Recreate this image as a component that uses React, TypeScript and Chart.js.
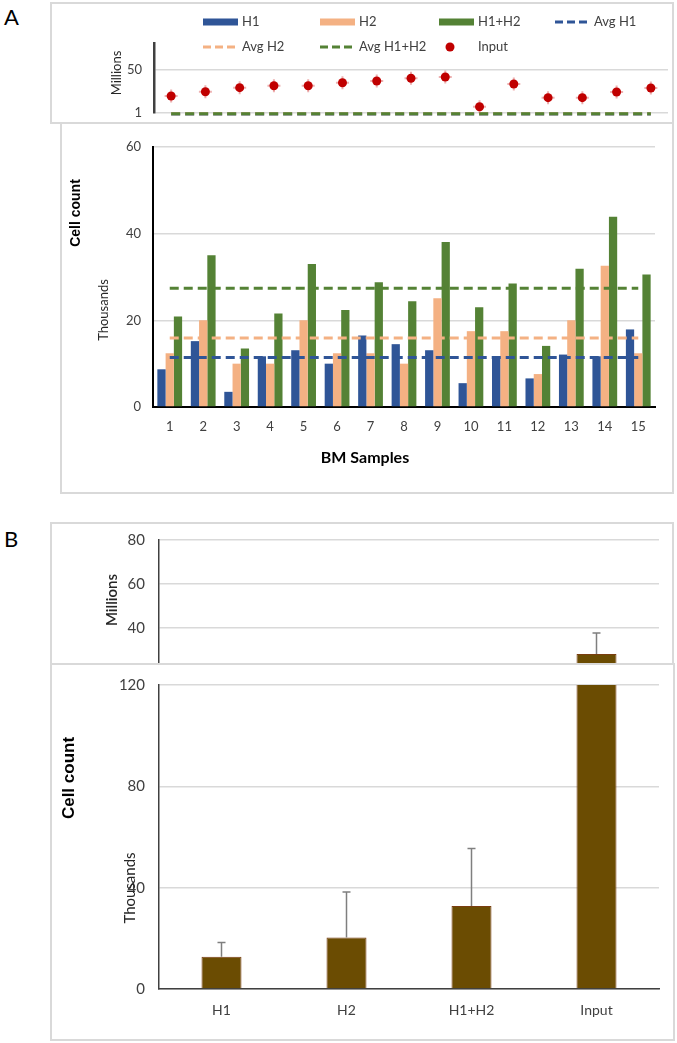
import React, { useEffect, useRef } from 'react';
import { Chart, registerables } from 'chart.js';

Chart.register(...registerables);
Chart.defaults.font.family = 'Lato, "Open Sans", sans-serif';

// ---------- Panel A data (thousands of cells) ----------
const samples = ['1', '2', '3', '4', '5', '6', '7', '8', '9', '10', '11', '12', '13', '14', '15'];
const h1Values = [8.7, 15.2, 3.5, 11.7, 13.1, 10.0, 16.5, 14.5, 13.1, 5.5, 11.7, 6.6, 12.1, 11.7, 17.9];
const h2Values = [12.4, 20.0, 10.0, 10.0, 20.0, 12.4, 12.4, 10.0, 25.1, 17.5, 17.5, 7.6, 20.0, 32.6, 12.4];
const h1h2Values = [20.9, 35.0, 13.5, 21.6, 33.0, 22.4, 28.8, 24.4, 38.1, 23.0, 28.5, 14.1, 31.9, 43.9, 30.6];
const avgH1 = 11.4;
const avgH2 = 15.9;
const avgH1H2 = 27.4;
// Input (millions of cells)
const inputMillions = [20.2, 25.0, 29.6, 31.8, 31.8, 35.2, 37.1, 40.2, 41.6, 8.1, 33.7, 18.3, 18.3, 24.7, 29.2];
const topATicks = [1, 50];
const lowerATicks = [0, 20, 40, 60];

// ---------- Panel B data (thousands of cells) ----------
const groupsB = ['H1', 'H2', 'H1+H2', 'Input'];
const meanB = [12.7, 20.3, 32.8, 28200];
const errB = [5.7, 18.0, 22.7, 9500];
const topBTicks = [0, 20, 40, 60, 80];
const lowerBTicks = [0, 40, 80, 120];

// ---------- colours ----------
const C_H1 = '#2f5597';
const C_H2 = '#f4b183';
const C_H12 = '#548235';
const C_INPUT = '#c00000';
const C_BROWN = '#6b4c02';
const C_GRID = '#d9d9d9';
const C_TICK = '#404040';

const legendItems = [
  { label: 'H1', color: C_H1, kind: 'rect' },
  { label: 'H2', color: C_H2, kind: 'rect' },
  { label: 'H1+H2', color: C_H12, kind: 'rect' },
  { label: 'Avg H1', color: C_H1, kind: 'dash' },
  { label: 'Avg H2', color: C_H2, kind: 'dash' },
  { label: 'Avg H1+H2', color: C_H12, kind: 'dash' },
  { label: 'Input', color: C_INPUT, kind: 'dot' },
];

// ---------- plugins ----------
const textPlugin = {
  id: 'extraText',
  afterDraw(chart: any, _a: any, opts: any) {
    const ctx = chart.ctx;
    (opts.items || []).forEach((it: any) => {
      ctx.save();
      ctx.translate(it.x, it.y);
      if (it.rotate) ctx.rotate(it.rotate);
      ctx.font = it.font;
      ctx.fillStyle = it.color || '#000';
      ctx.textAlign = 'center';
      ctx.textBaseline = 'middle';
      ctx.fillText(it.text, 0, 0);
      ctx.restore();
    });
  },
};

const gridLegendPlugin = {
  id: 'gridLegend',
  afterDraw(chart: any, _a: any, opts: any) {
    if (!opts.items) return;
    const ctx = chart.ctx;
    const sw = opts.swatchW;
    opts.items.forEach((it: any, i: number) => {
      const row = i < opts.perRow ? 0 : 1;
      const col = row === 0 ? i : i - opts.perRow;
      const x = opts.colX[col];
      const y = opts.rowY[row];
      ctx.save();
      if (it.kind === 'rect') {
        ctx.fillStyle = it.color;
        ctx.fillRect(x, y - 3.5, sw, 7);
      } else if (it.kind === 'dash') {
        ctx.strokeStyle = it.color;
        ctx.lineWidth = 3;
        ctx.setLineDash([8, 4]);
        ctx.beginPath();
        ctx.moveTo(x, y);
        ctx.lineTo(x + sw, y);
        ctx.stroke();
      } else {
        ctx.fillStyle = it.color;
        ctx.beginPath();
        ctx.arc(x + 11, y, 4.5, 0, Math.PI * 2);
        ctx.fill();
      }
      ctx.font = opts.font;
      ctx.fillStyle = C_TICK;
      ctx.textAlign = 'left';
      ctx.textBaseline = 'middle';
      ctx.fillText(it.label, x + sw + 4, y);
      ctx.restore();
    });
  },
};

const errorBarPlugin = {
  id: 'errorBars',
  afterDatasetsDraw(chart: any, _a: any, opts: any) {
    if (!opts.means) return;
    const { ctx, chartArea } = chart;
    const meta = chart.getDatasetMeta(0);
    const ys = chart.scales.y;
    ctx.save();
    ctx.beginPath();
    ctx.rect(chartArea.left, chartArea.top - 3, chartArea.right - chartArea.left, chartArea.bottom - chartArea.top + 3);
    ctx.clip();
    ctx.strokeStyle = opts.color;
    ctx.lineWidth = opts.width;
    meta.data.forEach((bar: any, i: number) => {
      const v = opts.means[i] * opts.scale;
      const e = opts.errors[i] * opts.scale;
      const y0 = ys.getPixelForValue(v);
      const y1 = ys.getPixelForValue(v + e);
      ctx.beginPath();
      ctx.moveTo(bar.x, y0);
      ctx.lineTo(bar.x, y1);
      ctx.moveTo(bar.x - opts.cap / 2, y1);
      ctx.lineTo(bar.x + opts.cap / 2, y1);
      ctx.stroke();
    });
    ctx.restore();
  },
};

const fixedTicks = (vals: number[]) => (s: any) => {
  s.ticks = vals.map((v) => ({ value: v }));
};

// fixed y-axis width and no extra label padding, so layout.padding sets the plot area exactly
const fixYWidth = (w: number) => (s: any) => {
  s.width = w;
  s.paddingTop = 0;
  s.paddingBottom = 0;
};

// ---------- chart configs ----------
function topAConfig(): any {
  const avgLine = (v: number, color: string, order: number) => ({
    type: 'line',
    data: [{ x: samples[0], y: v / 1000 }, { x: samples[samples.length - 1], y: v / 1000 }],
    borderColor: color,
    borderWidth: 3,
    borderDash: [9, 5],
    pointRadius: 0,
    pointHoverRadius: 0,
    clip: 6,
    order,
  });
  return {
    type: 'line',
    data: {
      labels: samples,
      datasets: [
        { data: inputMillions, showLine: false, pointStyle: 'circle', pointRadius: 4.5, pointHoverRadius: 0, pointBackgroundColor: C_INPUT, pointBorderColor: C_INPUT, pointBorderWidth: 0, order: 0 },
        { data: inputMillions, showLine: false, pointStyle: 'cross', pointRadius: 6.5, pointHoverRadius: 0, pointBorderColor: 'rgba(214,80,80,0.45)', pointBorderWidth: 2, order: 1 },
        avgLine(avgH1H2, C_H12, 2),
        avgLine(avgH2, C_H2, 3),
        avgLine(avgH1, C_H1, 4),
      ],
    },
    options: {
      responsive: false,
      animation: false,
      devicePixelRatio: 1,
      layout: { autoPadding: false, padding: { top: 41, right: 6, left: 0, bottom: 10 } },
      plugins: {
        legend: { display: false },
        tooltip: { enabled: false },
        gridLegend: {
          items: legendItems,
          perRow: 4,
          colX: [153, 270, 389, 505],
          rowY: [20, 45],
          swatchW: 35,
          font: '13px Lato',
        },
        extraText: {
          items: [{ text: 'Millions', x: 67, y: 71, rotate: -Math.PI / 2, font: '13px Lato', color: '#262626' }],
        },
      },
      scales: {
        x: {
          type: 'category',
          display: false,
          offset: true,
        },
        y: {
          min: 1,
          max: 80,
          afterBuildTicks: fixedTicks(topATicks),
          grid: { color: C_GRID, lineWidth: 1.5, drawTicks: false },
          border: { color: '#404040', width: 2.5 },
          ticks: { color: C_TICK, font: { size: 13 }, padding: 12 },
          afterFit: fixYWidth(104),
        },
      },
    },
    plugins: [gridLegendPlugin, textPlugin],
  };
}

function lowerAConfig(): any {
  const avgLine = (label: string, v: number, color: string, order: number) => ({
    type: 'line',
    label,
    data: [{ x: samples[0], y: v }, { x: samples[samples.length - 1], y: v }],
    borderColor: color,
    borderWidth: 3,
    borderDash: [9, 5],
    pointRadius: 0,
    pointHoverRadius: 0,
    order,
  });
  return {
    type: 'bar',
    data: {
      labels: samples,
      datasets: [
        { type: 'bar', label: 'H1', data: h1Values, backgroundColor: C_H1, order: 10 },
        { type: 'bar', label: 'H2', data: h2Values, backgroundColor: C_H2, order: 10 },
        { type: 'bar', label: 'H1+H2', data: h1h2Values, backgroundColor: C_H12, order: 10 },
        avgLine('Avg H1', avgH1, C_H1, 3),
        avgLine('Avg H2', avgH2, C_H2, 2),
        avgLine('Avg H1+H2', avgH1H2, C_H12, 1),
      ],
    },
    options: {
      responsive: false,
      animation: false,
      devicePixelRatio: 1,
      layout: { autoPadding: false, padding: { top: 24, right: 19, left: 0, bottom: 0 } },
      datasets: { bar: { barPercentage: 1, categoryPercentage: 0.74 } },
      plugins: {
        legend: { display: false },
        tooltip: { enabled: false },
        extraText: {
          items: [
            { text: 'Cell count', x: 16, y: 90, rotate: -Math.PI / 2, font: 'bold 14px "Liberation Sans", Arial, sans-serif', color: '#000' },
            { text: 'Thousands', x: 44, y: 187, rotate: -Math.PI / 2, font: '13px Lato', color: '#262626' },
            { text: 'BM Samples', x: 305, y: 335, font: 'bold 16px Lato', color: '#000' },
          ],
        },
      },
      scales: {
        x: {
          offset: true,
          grid: { display: false },
          border: { color: '#000', width: 2 },
          ticks: { color: C_TICK, font: { size: 13 }, padding: 4 },
          afterFit: (s: any) => { s.height = 86; },
        },
        y: {
          min: 0,
          max: 60,
          afterBuildTicks: fixedTicks(lowerATicks),
          grid: { color: C_GRID, lineWidth: 1.5, drawTicks: false },
          border: { color: '#000', width: 2 },
          ticks: { color: C_TICK, font: { size: 13 }, padding: 12 },
          afterFit: fixYWidth(93),
        },
      },
    },
    plugins: [textPlugin],
  };
}

function topBConfig(): any {
  return {
    type: 'bar',
    data: {
      labels: groupsB,
      datasets: [
        { data: meanB.map((v) => v / 1000), backgroundColor: C_BROWN, borderColor: '#7a3d10', borderWidth: 1, barPercentage: 1, categoryPercentage: 0.32 },
      ],
    },
    options: {
      responsive: false,
      animation: false,
      devicePixelRatio: 1,
      layout: { autoPadding: false, padding: { top: 17, right: 15, left: 0, bottom: 17 } },
      plugins: {
        legend: { display: false },
        tooltip: { enabled: false },
        errorBars: { means: meanB, errors: errB, scale: 1 / 1000, color: '#7f7f7f', width: 1.5, cap: 8 },
        extraText: {
          items: [{ text: 'Millions', x: 62, y: 77, rotate: -Math.PI / 2, font: '600 15px Lato', color: '#262626' }],
        },
      },
      scales: {
        x: {
          display: false,
          offset: true,
        },
        y: {
          min: 0,
          max: 80,
          afterBuildTicks: fixedTicks(topBTicks),
          grid: { color: C_GRID, lineWidth: 1.5, drawTicks: false },
          border: { color: '#404040', width: 1.5 },
          ticks: { color: C_TICK, font: { size: 15 }, padding: 14 },
          afterFit: fixYWidth(109),
        },
      },
    },
    plugins: [errorBarPlugin, textPlugin],
  };
}

function lowerBConfig(): any {
  return {
    type: 'bar',
    data: {
      labels: groupsB,
      datasets: [
        { data: meanB, backgroundColor: C_BROWN, borderColor: '#7a3d10', borderWidth: 1, barPercentage: 1, categoryPercentage: 0.32, clip: 0 },
      ],
    },
    options: {
      responsive: false,
      animation: false,
      devicePixelRatio: 1,
      layout: { autoPadding: false, padding: { top: 21, right: 16, left: 0, bottom: 0 } },
      plugins: {
        legend: { display: false },
        tooltip: { enabled: false },
        errorBars: { means: meanB, errors: errB, scale: 1, color: '#7f7f7f', width: 1.5, cap: 8 },
        extraText: {
          items: [
            { text: 'Cell count', x: 19, y: 114, rotate: -Math.PI / 2, font: 'bold 17px "Liberation Sans", Arial, sans-serif', color: '#000' },
            { text: 'Thousands', x: 80, y: 224, rotate: -Math.PI / 2, font: '15px Lato', color: '#262626' },
          ],
        },
      },
      scales: {
        x: {
          offset: true,
          grid: { display: false },
          border: { color: '#404040', width: 1.5 },
          ticks: { color: C_TICK, font: { size: 14 }, padding: 5 },
          afterFit: (s: any) => { s.height = 51; },
        },
        y: {
          min: 0,
          max: 120,
          afterBuildTicks: fixedTicks(lowerBTicks),
          grid: { color: C_GRID, lineWidth: 1.5, drawTicks: false },
          border: { color: '#404040', width: 1.5 },
          ticks: { color: C_TICK, font: { size: 15 }, padding: 14 },
          afterFit: fixYWidth(109),
        },
      },
    },
    plugins: [errorBarPlugin, textPlugin],
  };
}

// ---------- components ----------
function ChartCanvas(props: { left: number; top: number; width: number; height: number; z: number; make: () => any }) {
  const ref = useRef<HTMLCanvasElement>(null);
  useEffect(() => {
    const chart = new Chart(ref.current as HTMLCanvasElement, props.make());
    return () => chart.destroy();
  }, []);
  return (
    <canvas
      ref={ref}
      width={props.width}
      height={props.height}
      style={{ position: 'absolute', left: props.left, top: props.top, width: props.width, height: props.height, zIndex: props.z }}
    />
  );
}

function Box(props: { left: number; top: number; width: number; height: number; z: number }) {
  return (
    <div
      style={{
        position: 'absolute',
        left: props.left,
        top: props.top,
        width: props.width,
        height: props.height,
        border: '2px solid #d9d9d9',
        boxSizing: 'border-box',
        background: '#fff',
        zIndex: props.z,
      }}
    />
  );
}

export default function App() {
  const letter = (t: string, top: number) => (
    <div style={{ position: 'absolute', left: 4, top, fontFamily: 'Lato, sans-serif', fontSize: 22, lineHeight: '22px', color: '#000', zIndex: 10 }}>{t}</div>
  );
  return (
    <div style={{ position: 'absolute', left: 0, top: 0, width: 677, height: 1043, background: '#fff', overflow: 'hidden' }}>
      {letter('A', 6)}
      <Box left={50} top={2} width={624} height={122} z={1} />
      <ChartCanvas left={50} top={2} width={624} height={121} z={2} make={topAConfig} />
      <Box left={60} top={122} width={614} height={372} z={3} />
      <ChartCanvas left={60} top={123} width={614} height={370} z={4} make={lowerAConfig} />

      {letter('B', 528)}
      <Box left={50} top={522} width={624} height={143} z={1} />
      <ChartCanvas left={50} top={523} width={624} height={210} z={2} make={topBConfig} />
      <Box left={50} top={663} width={625} height={378} z={3} />
      <ChartCanvas left={50} top={664} width={625} height={376} z={4} make={lowerBConfig} />
    </div>
  );
}
